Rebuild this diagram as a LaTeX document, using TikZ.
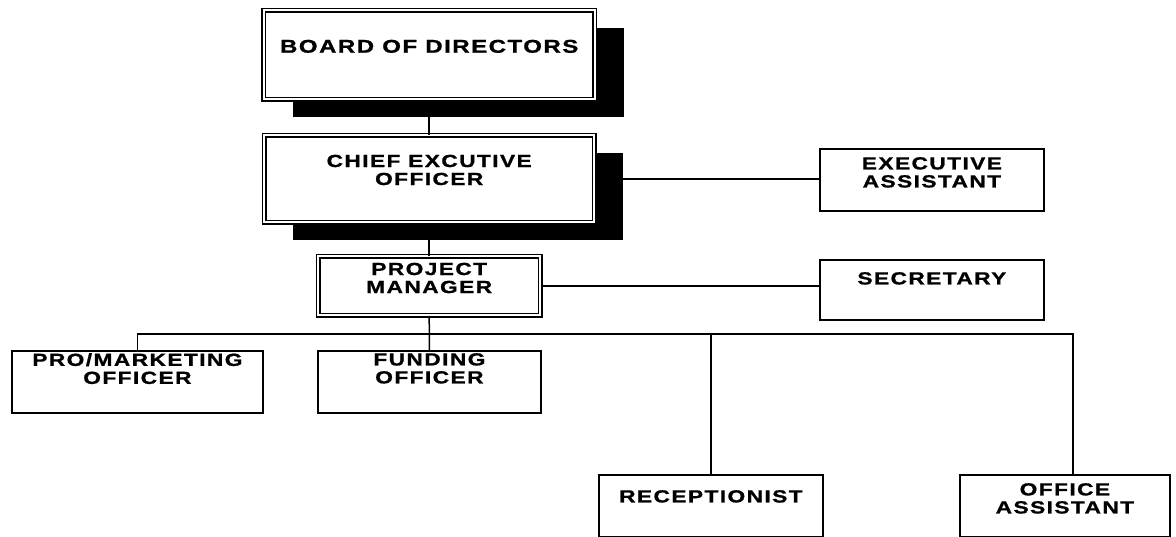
\documentclass[tikz,border=0pt]{standalone}
\usepackage{fontspec}
\setmainfont{Liberation Sans}
\newfontfamily\orgfont{Liberation Sans}[FakeStretch=1.3,LetterSpace=8,FakeBold=1]
\usetikzlibrary{calc,shadows}

\begin{document}
\begin{tikzpicture}[x=1pt,y=-1pt,
  unit/.style={draw=black, line width=1.8pt, fill=white, inner sep=0pt, anchor=north west},
  head/.style={unit, double=white, double distance=2.4pt, line width=1.4pt},
  shadowed/.style={drop shadow={shadow xshift=29pt, shadow yshift=-18pt, fill=black, opacity=1}},
  title/.style={font=\orgfont\bfseries\fontsize{17.5}{18}\selectfont, align=center, inner sep=0pt, anchor=north},
  link/.style={line width=1.5pt}]
\useasboundingbox (0,0) rectangle (1176,537);

% top of the chart
\node[head, shadowed, minimum width=331, minimum height=89] (board) at (263,9.6) {};
\node[head, shadowed, minimum width=330, minimum height=87] (ceo) at (263.5,134.6) {};
\node[head, minimum width=222, minimum height=59] (pm) at (317.5,255.6) {};

% side boxes
\node[unit, minimum width=224, minimum height=62] (exec) at (819,148) {};
\node[unit, minimum width=224, minimum height=60] (sec) at (819,259) {};

% bottom row
\node[unit, minimum width=251, minimum height=62] (promkt) at (11,350) {};
\node[unit, minimum width=223, minimum height=62] (fund) at (317,350) {};
\node[unit, minimum width=224, minimum height=62] (recep) at (598,474) {};
\node[unit, minimum width=210, minimum height=62] (office) at (959,474) {};

% texts
\node[title, font=\orgfont\bfseries\fontsize{18.5}{18}\selectfont] (board-t) at ($(board.north)+(0,30)$) {BOARD OF DIRECTORS};
\node[title] (ceo-t) at ($(ceo.north)+(0,20)$) {CHIEF EXCUTIVE\\OFFICER};
\node[title] (pm-t) at ($(pm.north)+(0,7)$) {PROJECT\\MANAGER};
\node[title] (exec-t) at ($(exec.north)+(0,9)$) {EXECUTIVE\\ASSISTANT};
\node[title] (sec-t) at ($(sec.north)+(0,13)$) {SECRETARY};
\node[title] (promkt-t) at ($(promkt.north)+(0,3)$) {PRO/MARKETING\\OFFICER};
\node[title] (fund-t) at ($(fund.north)+(0,3)$) {FUNDING\\OFFICER};
\node[title] (recep-t) at ($(recep.north)+(0,16)$) {RECEPTIONIST};
\node[title] (office-t) at ($(office.north)+(0,9)$) {OFFICE\\ASSISTANT};

% connectors
\coordinate (bus) at (700,334);
\coordinate (officetop) at ($(office.north west)+(114,0)$);
\draw[link] (board.south) -- (ceo.north);
\draw[link] (ceo.south) -- (pm.north);
\draw[link] (ceo.east) -- (ceo.east -| exec.west);
\draw[link] (pm.east) -- (pm.east -| sec.west);
\draw[link] (pm.south) -- (fund.north);
\draw[link] (promkt.north) |- (bus) -| (officetop);
\draw[link] (recep.north) -- (recep.north |- bus);
\end{tikzpicture}
\end{document}
